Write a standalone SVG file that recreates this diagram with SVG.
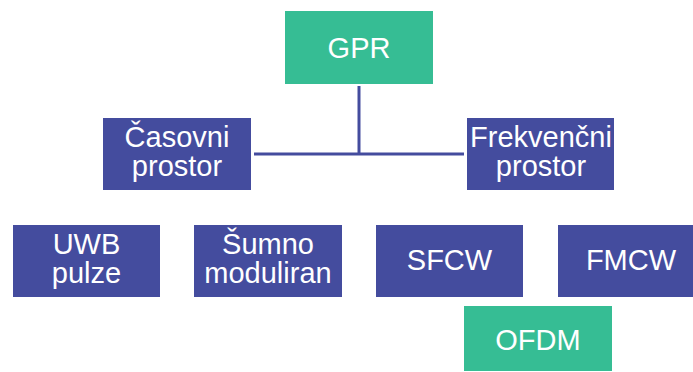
<svg xmlns="http://www.w3.org/2000/svg" width="693" height="372" viewBox="0 0 693 372">
<style>
.b{fill:#444C9E}
.g{fill:#36BD94}
.t{font-family:"Liberation Sans",Arial,sans-serif;font-size:29px;fill:#ffffff;text-anchor:middle}
.c{stroke:#444C9E;stroke-width:3;fill:none}
</style>
<rect width="693" height="372" fill="#ffffff"/>
<g id="connectors">
<line class="c" x1="359" y1="86" x2="359" y2="154"/>
<line class="c" x1="254" y1="154" x2="464" y2="154"/>
</g>
<g id="gpr"><rect class="g" x="285" y="11" width="148" height="73"/><text class="t" x="359" y="57.5">GPR</text></g>
<g id="casovni"><rect class="b" x="103" y="118" width="148" height="72"/><text class="t" x="177" y="147">Časovni</text><text class="t" x="177" y="176">prostor</text></g>
<g id="frekvencni"><rect class="b" x="467" y="118" width="147" height="72"/><text class="t" x="541" y="147">Frekvenčni</text><text class="t" x="541" y="176">prostor</text></g>
<g id="uwb"><rect class="b" x="13" y="225" width="147" height="72"/><text class="t" x="86.5" y="254">UWB</text><text class="t" x="86.5" y="283">pulze</text></g>
<g id="sumno"><rect class="b" x="194" y="225" width="148" height="72"/><text class="t" x="268" y="254">Šumno</text><text class="t" x="268" y="283">moduliran</text></g>
<g id="sfcw"><rect class="b" x="376" y="225" width="147" height="72"/><text class="t" x="449.5" y="269.5">SFCW</text></g>
<g id="fmcw"><rect class="b" x="558" y="225" width="146" height="72"/><text class="t" x="631" y="269.5">FMCW</text></g>
<g id="ofdm"><rect class="g" x="464" y="306" width="148" height="65"/><text class="t" x="538" y="350">OFDM</text></g>
</svg>
